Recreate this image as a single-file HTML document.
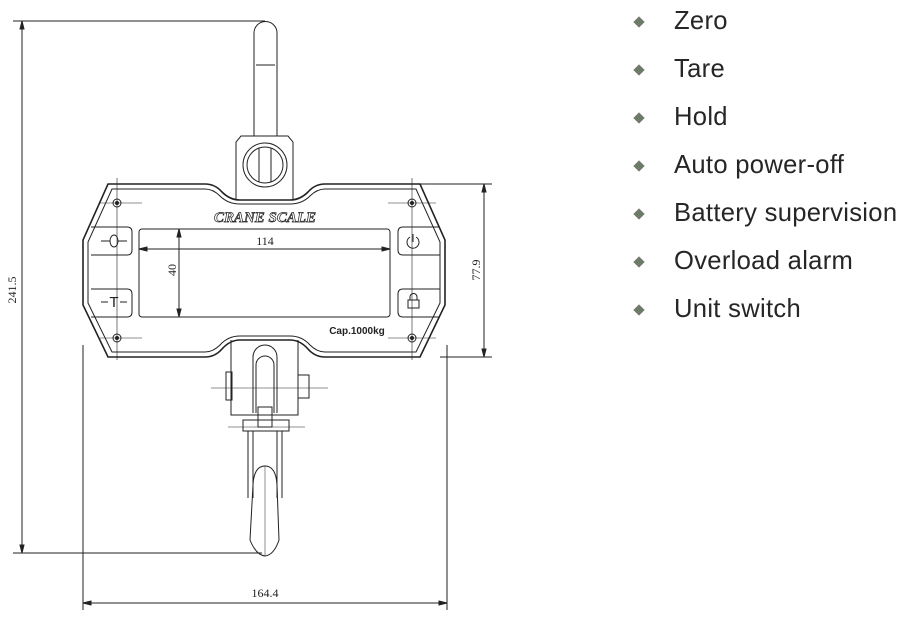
<!DOCTYPE html>
<html><head><meta charset="utf-8"><style>
html,body{margin:0;padding:0;background:#fff;width:914px;height:617px;overflow:hidden}
.l{position:absolute;left:674px;font-family:"Liberation Sans","DejaVu Sans",sans-serif;font-size:25.6px;letter-spacing:0.3px;color:#262626}
.d{position:absolute;left:635px;width:8px;height:8px;background:#6e7a6a;transform:rotate(45deg)}
</style></head><body>
<svg width="914" height="617" style="position:absolute;left:0;top:0" xmlns="http://www.w3.org/2000/svg" fill="none" stroke="#222" stroke-width="1">
<line x1="13" y1="21" x2="265" y2="21"/>
<line x1="13" y1="553" x2="262" y2="553"/>
<line x1="22" y1="21" x2="22" y2="553"/>
<path d="M22 21 l-2 8 h4z M22 553 l-2 -8 h4z" fill="#222"/>
<text x="16" y="290" transform="rotate(-90 16 290)" font-family="Liberation Serif,serif" font-size="12" fill="#222" stroke="none" text-anchor="middle">241.5</text>
<path d="M254 136 V33 a11.5 11.5 0 0 1 23 0 V136"/>
<line x1="256" y1="65" x2="275" y2="65"/>
<path d="M236 200 V142 l5 -6 H288 l5 6 V200"/>
<circle cx="265" cy="165" r="22"/><circle cx="265" cy="165" r="18"/>
<path d="M259 148 V182 M271 148 V182"/>
<path d="M108 184 H205 Q215 184 222 192 Q230 200 240 200 H290 Q300 200 308 192 Q315 184 325 184 H420 L445 240 V305 L420 357 H325 Q315 357 308 349 Q300 340 290 340 H240 Q230 340 222 349 Q215 357 205 357 H108 L83 305 V240 Z" stroke-width="1.6"/>
<path d="M112 189 H205 Q213 189 220 196 Q228 204 240 204 H290 Q302 204 310 196 Q317 189 325 189 H416 L440 242 V303 L416 352 H325 Q317 352 310 345 Q302 336 290 336 H240 Q228 336 220 345 Q213 352 205 352 H112 L88 303 V242 Z"/>
<g>
<circle cx="117" cy="203" r="4"/><circle cx="117" cy="203" r="1.5" fill="#222"/>
<circle cx="412" cy="203" r="4"/><circle cx="412" cy="203" r="1.5" fill="#222"/>
<circle cx="117" cy="338" r="4"/><circle cx="117" cy="338" r="1.5" fill="#222"/>
<circle cx="412" cy="338" r="4"/><circle cx="412" cy="338" r="1.5" fill="#222"/>
<path d="M117 178 V360 M100 203 H142 M100 338 H142 M412 178 V360 M388 203 H436 M388 338 H436" stroke-width="0.6"/>
</g>
<text x="265" y="222" font-family="Liberation Serif,serif" font-style="italic" font-weight="bold" font-size="15" fill="#fff" stroke="#222" stroke-width="0.7" text-anchor="middle">CRANE SCALE</text>
<rect x="139" y="229" width="251" height="88" rx="3"/>
<line x1="139" y1="249" x2="390" y2="249"/>
<path d="M139 249 l8 -2 v4z M390 249 l-8 -2 v4z" fill="#222"/>
<text x="265" y="245" font-family="Liberation Serif,serif" font-size="12" fill="#222" stroke="none" text-anchor="middle">114</text>
<line x1="179" y1="229" x2="179" y2="317"/>
<path d="M179 229 l-2 8 h4z M179 317 l-2 -8 h4z" fill="#222"/>
<text x="176" y="270" transform="rotate(-90 176 270)" font-family="Liberation Serif,serif" font-size="12" fill="#222" stroke="none" text-anchor="middle">40</text>
<path d="M91 227 H127 q5 0 5 5 V250 q0 5 -5 5 H91"/>
<path d="M91 289 H127 q5 0 5 5 V312 q0 5 -5 5 H91"/>
<path d="M440 227 H403 q-5 0 -5 5 V250 q0 5 5 5 H440"/>
<path d="M440 289 H403 q-5 0 -5 5 V312 q0 5 5 5 H440"/>
<ellipse cx="114" cy="241" rx="4" ry="6"/><path d="M101 241 H110 M118 241 H127"/>
<text x="114" y="307" font-family="Liberation Sans,sans-serif" font-size="15" fill="#222" stroke="none" text-anchor="middle">T</text><path d="M101 302 H108 M120 302 H127"/>
<path d="M410 237 a6 6 0 1 0 6 0 M413 234 V242"/>
<rect x="408" y="300" width="11" height="8"/><path d="M410 300 v-3 a3.5 3.5 0 0 1 7 0 v3"/>
<text x="357" y="334" font-family="Liberation Sans,sans-serif" font-size="10" font-weight="bold" fill="#222" stroke="none" text-anchor="middle">Cap.1000kg</text>
<path d="M418 184 H492 M440 357 H492 M484 184 V357"/>
<path d="M484 184 l-2 8 h4z M484 357 l-2 -8 h4z" fill="#222"/>
<text x="480" y="270" transform="rotate(-90 480 270)" font-family="Liberation Serif,serif" font-size="12" fill="#222" stroke="none" text-anchor="middle">77.9</text>
<path d="M83 345 V610 M447 345 V610 M83 603 H447"/>
<path d="M83 603 l8 -2 v4z M447 603 l-8 -2 v4z" fill="#222"/>
<text x="265" y="597" font-family="Liberation Serif,serif" font-size="12" fill="#222" stroke="none" text-anchor="middle">164.4</text>
<path d="M231 340 V415 H298 V340"/>
<path d="M253 413 V357 a12 12 0 0 1 24 0 V413"/>
<path d="M256 413 V365 a9 9 0 0 1 18 0 V413"/>
<rect x="226" y="372" width="6" height="28"/>
<path d="M298 375 H309 V398 H298"/>
<path d="M211 388 H328" stroke-width="0.6"/>
<rect x="258" y="407" width="14" height="20"/>
<rect x="243" y="420" width="46" height="11"/>
<path d="M228 427 H305" stroke-width="0.6"/>
<path d="M248 431 V498 M253 431 V498 M277 431 V498 M282 431 V498"/>
<path d="M265 466 Q254 466 253 485 L250 540 Q256 555 265 556 Q274 555 279 540 L277 485 Q276 466 265 466Z"/>
<line x1="265" y1="466" x2="265" y2="556" stroke-width="0.5"/>
</svg>
<div class="d" style="top:18px"></div><div class="l" style="top:7px">Zero</div>
<div class="d" style="top:66px"></div><div class="l" style="top:55px">Tare</div>
<div class="d" style="top:114px"></div><div class="l" style="top:103px">Hold</div>
<div class="d" style="top:162px"></div><div class="l" style="top:151px">Auto power-off</div>
<div class="d" style="top:210px"></div><div class="l" style="top:199px">Battery supervision</div>
<div class="d" style="top:258px"></div><div class="l" style="top:247px">Overload alarm</div>
<div class="d" style="top:306px"></div><div class="l" style="top:295px">Unit switch</div>
</body></html>
